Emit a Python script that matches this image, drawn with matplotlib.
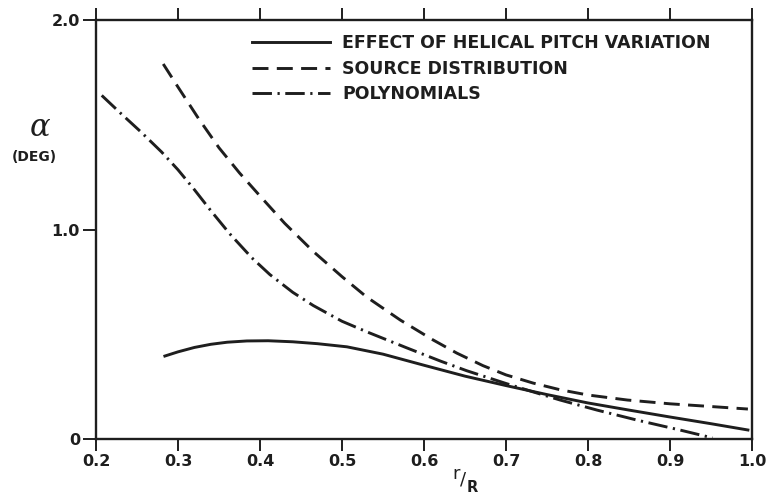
import matplotlib
matplotlib.use("Agg")
import matplotlib.pyplot as plt

plt.rcParams['lines.scale_dashes'] = False

# Effect of helical pitch variation (solid)
helical_x = [0.284, 0.30, 0.32, 0.34, 0.36, 0.384, 0.41, 0.44, 0.47, 0.506, 0.55, 0.60, 0.65, 0.70, 0.75, 0.80, 0.85, 0.90, 0.95, 0.995]
helical_y = [0.396, 0.416, 0.437, 0.452, 0.462, 0.468, 0.469, 0.464, 0.455, 0.44, 0.405, 0.352, 0.300, 0.255, 0.212, 0.172, 0.138, 0.105, 0.073, 0.043]

# Source distribution (dashed)
source_x = [0.282, 0.30, 0.325, 0.35, 0.375, 0.40, 0.43, 0.465, 0.50, 0.53, 0.571, 0.611, 0.64, 0.672, 0.70, 0.733, 0.766, 0.80, 0.848, 0.90, 0.95, 0.995]
source_y = [1.79, 1.68, 1.53, 1.39, 1.27, 1.16, 1.03, 0.895, 0.775, 0.678, 0.568, 0.473, 0.41, 0.35, 0.306, 0.267, 0.235, 0.21, 0.186, 0.168, 0.155, 0.143]

# Polynomials (dash-dot)
poly_x = [0.207, 0.23, 0.255, 0.28, 0.30, 0.32, 0.34, 0.363, 0.39, 0.412, 0.44, 0.465, 0.50, 0.53, 0.579, 0.62, 0.652, 0.70, 0.733, 0.766, 0.811, 0.86, 0.912, 0.952]
poly_y = [1.64, 1.555, 1.465, 1.37, 1.285, 1.19, 1.09, 0.98, 0.865, 0.785, 0.70, 0.637, 0.562, 0.512, 0.435, 0.372, 0.326, 0.265, 0.225, 0.186, 0.138, 0.09, 0.043, 0.005]

labels = ["EFFECT OF HELICAL PITCH VARIATION", "SOURCE DISTRIBUTION", "POLYNOMIALS"]
x_ticks = [0.2, 0.3, 0.4, 0.5, 0.6, 0.7, 0.8, 0.9, 1.0]
x_ticklabels = ["0.2", "0.3", "0.4", "0.5", "0.6", "0.7", "0.8", "0.9", "1.0"]
y_ticks = [0, 1.0, 2.0]
y_ticklabels = ["0", "1.0", "2.0"]

W, H = 769, 495
fig = plt.figure(figsize=(W / 100, H / 100), dpi=100)
L, R, B, T = 96, 752, 439, 20
ax = fig.add_axes([L / W, 1 - B / H, (R - L) / W, (B - T) / H])

col = "#1e1e1e"
lw = 2.1
ax.plot(helical_x, helical_y, color=col, lw=lw, linestyle='-', label=labels[0])
ax.plot(source_x, source_y, color=col, lw=lw, linestyle=(0, (11.5, 6.0)), label=labels[1])
ax.plot(poly_x, poly_y, color=col, lw=lw, linestyle=(0, (14, 4, 1.6, 4)), label=labels[2])

ax.set_xlim(0.2, 1.0)
ax.set_ylim(0, 2.0)

tick_font = dict(family="DejaVu Sans", weight="bold", size=11.5)
ax.set_xticks(x_ticks)
ax.set_xticklabels(x_ticklabels, **tick_font, color=col)
ax.set_yticks(y_ticks)
ax.set_yticklabels(y_ticklabels, **tick_font, color=col)
ax.tick_params(axis='x', which='both', direction='out', length=8.5, width=1.4,
               top=True, labeltop=False, bottom=True, pad=2, colors=col)
ax.tick_params(axis='y', which='both', direction='out', length=9.5, width=1.4,
               left=True, right=False, pad=2, colors=col)
for s in ax.spines.values():
    s.set_linewidth(1.7)
    s.set_color(col)

leg = ax.legend(loc='upper left', bbox_to_anchor=(252 / W, 1 - 34 / H),
                bbox_transform=fig.transFigure, frameon=False,
                handlelength=4.5, handletextpad=0.69, labelspacing=0.44,
                borderpad=0, borderaxespad=0,
                prop=dict(family="DejaVu Sans", weight="bold", size=12.5))
for t in leg.get_texts():
    t.set_color(col)

# y-axis label
fig.text(40 / W, 1 - 128 / H, "α", family="DejaVu Serif", style="italic",
         size=22, ha="center", va="center", color=col)
fig.text(34 / W, 1 - 157 / H, "(DEG)", family="DejaVu Sans", weight="bold",
         size=10, ha="center", va="center", color=col)

# x-axis label r/R
fig.text(456 / W, 1 - 474 / H, "r", family="DejaVu Sans", size=13,
         ha="center", va="center", color=col)
fig.text(463 / W, 1 - 479 / H, "/", family="DejaVu Sans", size=13,
         ha="center", va="center", color=col)
fig.text(472 / W, 1 - 487 / H, "R", family="DejaVu Sans", weight="bold", size=10.5,
         ha="center", va="center", color=col)

fig.savefig("out.png", dpi=100)
